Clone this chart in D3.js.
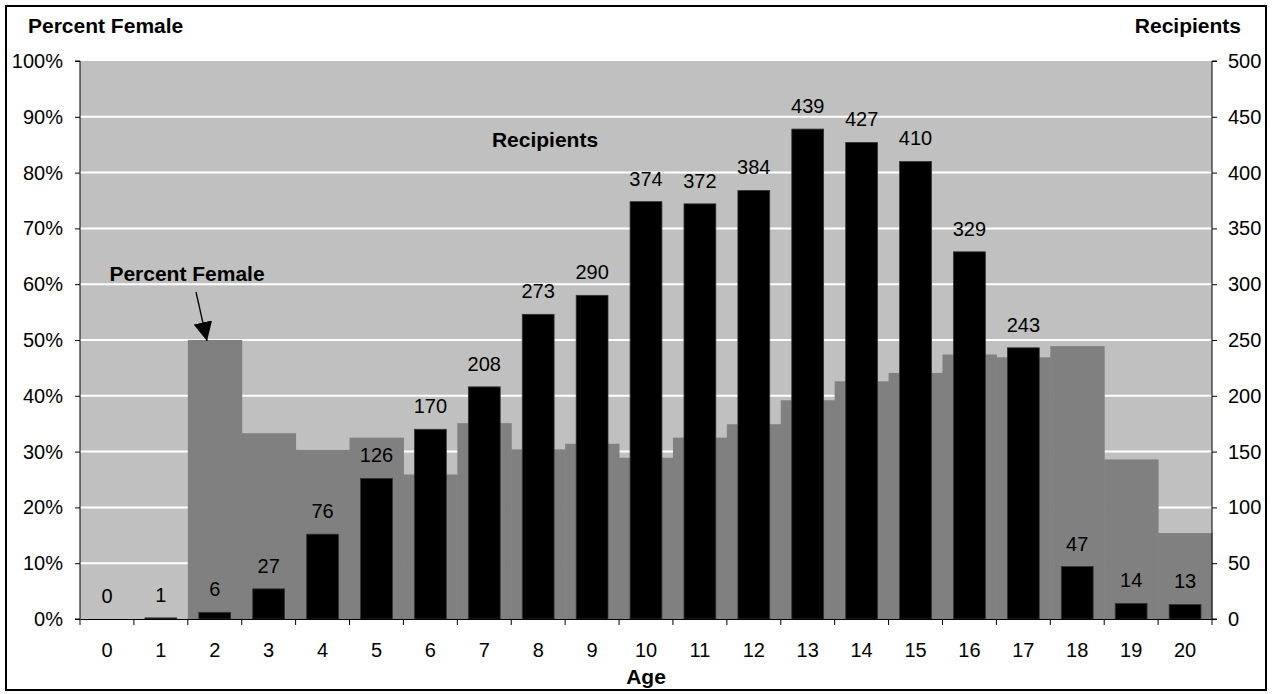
<!DOCTYPE html>
<html lang="en">
  <head>
    <meta charset="utf-8">
    <style>
      body { margin: 0; background: #fff; }
      text { font-family: "Liberation Sans", Arial, sans-serif; fill: #000; }
      .axis text { font-size: 20px; }
      .axis path, .axis line { stroke: #000; }
      .bold { font-weight: bold; font-size: 21px; }
    </style>
  </head>
  <body>
    <script src="https://cdn.jsdelivr.net/npm/d3@7"></script>
    <script>
      // data
      var ages = [0,1,2,3,4,5,6,7,8,9,10,11,12,13,14,15,16,17,18,19,20];
      var recipients = [0,1,6,27,76,126,170,208,273,290,374,372,384,439,427,410,329,243,47,14,13];
      var pctFemale = [0,0,50,33.3,30.3,32.5,25.9,35.1,30.4,31.4,28.9,32.5,34.9,39.2,42.6,44.1,47.4,46.9,48.9,28.6,15.4];
      var pctTicks = [0,10,20,30,40,50,60,70,80,90,100];
      var recTicks = [0,50,100,150,200,250,300,350,400,450,500];

      var W = 1275, H = 694;
      var margin = {top: 61, right: 63, bottom: 75, left: 80};
      var width = W - margin.left - margin.right,
          height = H - margin.top - margin.bottom;

      var svg = d3.select("body").append("svg")
        .attr("width", W)
        .attr("height", H);

      // outer frame
      svg.append("rect")
        .attr("x", 6).attr("y", 6)
        .attr("width", 1260).attr("height", 684)
        .attr("fill", "none")
        .attr("stroke", "#000")
        .attr("stroke-width", 2);

      var g = svg.append("g")
        .attr("transform", "translate(" + margin.left + "," + margin.top + ")");

      var x = d3.scaleBand().domain(ages).range([0, width]).padding(0);
      var xBar = d3.scaleBand().domain(ages).range([0, width]).paddingInner(0.41).paddingOuter(0.205);
      var yPct = d3.scaleLinear().domain([0, 100]).range([height, 0]);
      var yRec = d3.scaleLinear().domain([0, 500]).range([height, 0]);

      // plot background
      g.append("rect")
        .attr("width", width).attr("height", height)
        .attr("fill", "#c0c0c0");

      // gridlines
      g.selectAll(".grid")
        .data(pctTicks.filter(function(d) { return d > 0 && d < 100; }))
        .enter().append("line")
        .attr("x1", 0).attr("x2", width)
        .attr("y1", function(d) { return yPct(d); })
        .attr("y2", function(d) { return yPct(d); })
        .attr("stroke", "#fff")
        .attr("stroke-width", 2);

      // percent female (gray, no gap)
      g.selectAll(".pct")
        .data(ages)
        .enter().append("rect")
        .attr("x", function(d) { return x(d); })
        .attr("width", x.bandwidth() + 0.5)
        .attr("y", function(d, i) { return yPct(pctFemale[i]); })
        .attr("height", function(d, i) { return height - yPct(pctFemale[i]); })
        .attr("fill", "#808080");

      // recipients (black bars)
      g.selectAll(".bar")
        .data(ages)
        .enter().append("rect")
        .attr("x", function(d) { return xBar(d); })
        .attr("width", xBar.bandwidth())
        .attr("y", function(d, i) { return yRec(recipients[i]); })
        .attr("height", function(d, i) { return height - yRec(recipients[i]); })
        .attr("fill", "#000")
        .attr("stroke", "#333")
        .attr("stroke-width", 0.8);

      // value labels
      g.selectAll(".lbl")
        .data(ages)
        .enter().append("text")
        .attr("x", function(d) { return x(d) + x.bandwidth() / 2; })
        .attr("y", function(d, i) { return yRec(recipients[i]) - 16; })
        .attr("text-anchor", "middle")
        .style("font-size", "20px")
        .text(function(d, i) { return recipients[i]; });

      // axes
      g.append("g")
        .attr("class", "axis")
        .call(d3.axisLeft(yPct).tickValues(pctTicks).tickSize(5).tickPadding(12)
          .tickFormat(function(d) { return d + "%"; }))
        .call(function(s) { s.select(".domain").attr("d", "M-5," + height + "H0V0H-5"); });

      g.append("g")
        .attr("class", "axis")
        .attr("transform", "translate(" + width + ",0)")
        .call(d3.axisRight(yRec).tickValues(recTicks).tickSize(5).tickPadding(11))
        .call(function(s) { s.select(".domain").attr("d", "M5," + height + "H0V0H5"); });

      var xAxis = g.append("g")
        .attr("class", "axis")
        .attr("transform", "translate(0," + height + ")")
        .call(d3.axisBottom(x).tickSize(0).tickPadding(24));
      // ticks on category boundaries
      xAxis.selectAll(".bound")
        .data(ages.concat([21]))
        .enter().append("line")
        .attr("x1", function(d, i) { return i * x.step(); })
        .attr("x2", function(d, i) { return i * x.step(); })
        .attr("y1", 0).attr("y2", 6)
        .attr("stroke", "#000");

      // titles
      svg.append("text").attr("class", "bold")
        .attr("x", 28).attr("y", 33).text("Percent Female");
      svg.append("text").attr("class", "bold")
        .attr("x", 1241).attr("y", 33).attr("text-anchor", "end").text("Recipients");
      svg.append("text").attr("class", "bold")
        .attr("x", margin.left + width / 2).attr("y", 684).attr("text-anchor", "middle").text("Age");

      // annotations
      svg.append("text").attr("class", "bold")
        .attr("x", 545).attr("y", 147).attr("text-anchor", "middle").text("Recipients");
      svg.append("text").attr("class", "bold")
        .attr("x", 187).attr("y", 281).attr("text-anchor", "middle").text("Percent Female");

      svg.append("defs").append("marker")
        .attr("id", "arr")
        .attr("viewBox", "0 0 10 10")
        .attr("refX", 10).attr("refY", 5)
        .attr("markerWidth", 19).attr("markerHeight", 19)
        .attr("markerUnits", "userSpaceOnUse")
        .attr("orient", "auto")
        .append("path")
        .attr("d", "M0,0L10,5L0,10Z")
        .attr("fill", "#000");

      svg.append("line")
        .attr("x1", 196).attr("y1", 292)
        .attr("x2", 207).attr("y2", 341)
        .attr("stroke", "#000")
        .attr("stroke-width", 1.3)
        .attr("marker-end", "url(#arr)");
    </script>
  </body>
</html>
